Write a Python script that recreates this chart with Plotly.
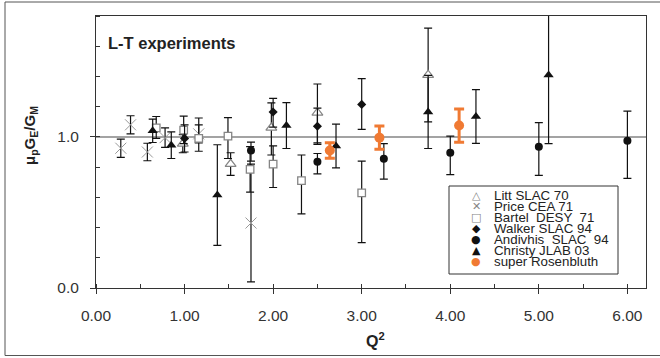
import plotly.graph_objects as go

# ---------------------------------------------------------------- data
# Litt SLAC 70 (open triangles)
litt_q2 = [0.98, 1.52, 1.98, 2.50, 3.75]
litt_r = [0.955, 0.82, 1.06, 1.16, 1.41]
litt_ep = [0.06, 0.075, 0.165, 0.19, 0.31]
litt_em = [0.06, 0.075, 0.18, 0.20, 0.31]

# Price CEA 71 (crosses)
price_q2 = [0.28, 0.39, 0.58, 0.78, 1.16, 1.75]
price_r = [0.925, 1.08, 0.90, 0.995, 1.02, 0.43]
price_e = [0.06, 0.06, 0.058, 0.065, 0.06, 0.39]

# Bartel DESY 71 (open squares)
bartel_q2 = [0.68, 0.99, 1.16, 1.49, 1.74, 2.00, 2.32, 3.00]
bartel_r = [1.06, 1.045, 0.99, 1.005, 0.785, 0.82, 0.71, 0.63]
bartel_ep = [0.075, 0.093, 0.135, 0.123, 0.15, 0.12, 0.17, 0.21]
bartel_em = [0.07, 0.09, 0.085, 0.148, 0.15, 0.155, 0.22, 0.33]

# Walker SLAC 94 (diamonds)
walker_q2 = [1.00, 2.00, 2.50, 3.00]
walker_r = [0.99, 1.165, 1.07, 1.215]
walker_ep = [0.09, 0.09, 0.12, 0.17]
walker_em = [0.09, 0.10, 0.12, 0.165]

# Andivahis SLAC 94 (filled circles)
andiv_q2 = [1.75, 2.50, 3.25, 4.00, 5.00, 6.00]
andiv_r = [0.91, 0.835, 0.855, 0.895, 0.935, 0.975]
andiv_ep = [0.055, 0.055, 0.10, 0.11, 0.16, 0.195]
andiv_em = [0.07, 0.08, 0.135, 0.145, 0.19, 0.25]

# Christy JLAB 03 (filled triangles)
christy_q2 = [0.64, 0.85, 1.37, 2.15, 2.71, 3.75, 4.29, 5.11]
christy_r = [1.04, 0.945, 0.615, 1.075, 0.94, 1.165, 1.135, 1.41]
christy_e = [0.077, 0.088, 0.333, 0.152, 0.145, 0.242, 0.178, 0.455]

# super Rosenbluth (orange)
super_q2 = [2.64, 3.20, 4.10]
super_r = [0.91, 0.995, 1.075]
super_e = [0.052, 0.077, 0.11]

x_ticks = [0, 1, 2, 3, 4, 5, 6]
x_ticktext = ["0.00", "1.00", "2.00", "3.00", "4.00", "5.00", "6.00"]
y_ticks = [0.0, 1.0]
y_ticktext = ["0.0", "1.0"]

legend_labels = ["Litt SLAC 70", "Price CEA 71", "Bartel \u00a0DESY \u00a071",
                 "Walker SLAC 94", "Andivhis \u00a0SLAC \u00a094",
                 "Christy JLAB 03", "super Rosenbluth"]
legend_glyphs = ["\u25b3", "\u2715", "\u25a1", "\u25c6", "\u25cf", "\u25b2", "\u25cf"]

# ---------------------------------------------------------------- style
FONT = "Liberation Sans, Arial, Helvetica, sans-serif"
GREY = "#858585"
ORANGE = "#f07a33"
INK = "#222222"
legend_colors = [GREY, GREY, GREY, "#111111", "#111111", "#111111", ORANGE]

W, H = 660, 358
ML, MR, MT, MB = 96, 14, 16, 70


def px_x(p):
    return (p - ML) / (W - ML - MR)


def px_y(p):
    return (H - MB - p) / (H - MT - MB)


def err(plus, minus=None, color="#111111", thick=1.2, width=4):
    d = dict(type="data", array=plus, color=color, thickness=thick, width=width)
    if minus is not None:
        d["symmetric"] = False
        d["arrayminus"] = minus
    return d


fig = go.Figure()

fig.add_trace(go.Scatter(
    x=litt_q2, y=litt_r, mode="markers", name="Litt SLAC 70",
    error_y=err(litt_ep, litt_em),
    marker=dict(symbol="triangle-up", size=9.5, color="white",
                line=dict(color=GREY, width=1.2))))

fig.add_trace(go.Scatter(
    x=price_q2, y=price_r, mode="markers", name="Price CEA 71",
    error_y=err(price_e),
    marker=dict(symbol="x-thin", size=11, color="#999999",
                line=dict(color="#999999", width=1))))

fig.add_trace(go.Scatter(
    x=bartel_q2, y=bartel_r, mode="markers", name="Bartel DESY 71",
    error_y=err(bartel_ep, bartel_em),
    marker=dict(symbol="square", size=7.5, color="white",
                line=dict(color=GREY, width=1.3))))

fig.add_trace(go.Scatter(
    x=walker_q2, y=walker_r, mode="markers", name="Walker SLAC 94",
    error_y=err(walker_ep, walker_em),
    marker=dict(symbol="diamond", size=7, color="#111111")))

fig.add_trace(go.Scatter(
    x=andiv_q2, y=andiv_r, mode="markers", name="Andivhis SLAC 94",
    error_y=err(andiv_ep, andiv_em),
    marker=dict(symbol="circle", size=8, color="#111111")))

# the highest Christy point's error bar runs past the top of the frame
fig.add_trace(go.Scatter(
    x=christy_q2, y=christy_r, mode="markers", name="Christy JLAB 03",
    error_y=err(christy_e), cliponaxis=False,
    marker=dict(symbol="triangle-up", size=9, color="#111111")))

fig.add_trace(go.Scatter(
    x=super_q2, y=super_r, mode="markers", name="super Rosenbluth",
    error_y=err(super_e, color=ORANGE, thick=3, width=5),
    marker=dict(symbol="circle", size=10, color=ORANGE)))

shapes = [
    # reference line at ratio = 1
    dict(type="line", xref="paper", yref="y", x0=0, x1=1, y0=1, y1=1,
         line=dict(color=GREY, width=1.5), layer="below"),
    # outer frame
    dict(type="rect", xref="paper", yref="paper",
         x0=px_x(5), x1=px_x(W + 10), y0=px_y(355.5), y1=px_y(2),
         line=dict(color="#555555", width=1)),
    # legend box
    dict(type="rect", xref="paper", yref="paper",
         x0=px_x(449), x1=px_x(618), y0=px_y(274), y1=px_y(186),
         line=dict(color="#333333", width=1), fillcolor="white"),
]

annotations = [
    dict(text="<b>L-T experiments</b>", xref="paper", yref="paper",
         x=px_x(106), y=px_y(43.5), xanchor="left", yanchor="middle",
         showarrow=False, font=dict(family=FONT, size=16.5, color=INK)),
    dict(text="<b>\u03bc<sub>p</sub>G<sub>E</sub>/G<sub>M</sub></b>",
         xref="paper", yref="paper", x=px_x(30), y=px_y(136),
         xanchor="center", yanchor="middle", textangle=-90, showarrow=False,
         font=dict(family=FONT, size=15, color=INK)),
    dict(text="<b>Q<sup>2</sup></b>", xref="paper", yref="paper",
         x=px_x(376), y=px_y(340), xanchor="center", yanchor="middle",
         showarrow=False, font=dict(family=FONT, size=16, color=INK)),
]

row0, row_step = 195.0, 11.1
for i, (lab, gl, col) in enumerate(zip(legend_labels, legend_glyphs, legend_colors)):
    yy = px_y(row0 + i * row_step)
    annotations.append(dict(
        text=gl, xref="paper", yref="paper", x=px_x(476), y=yy,
        xanchor="center", yanchor="middle", showarrow=False,
        font=dict(family="DejaVu Sans", size=11, color=col)))
    annotations.append(dict(
        text=lab, xref="paper", yref="paper", x=px_x(492), y=yy,
        xanchor="left", yanchor="middle", showarrow=False,
        font=dict(family=FONT, size=13.3, color=INK)))

fig.update_layout(
    width=W, height=H,
    margin=dict(l=ML, r=MR, t=MT, b=MB),
    paper_bgcolor="white", plot_bgcolor="white",
    showlegend=False,
    font=dict(family=FONT, size=15, color="#333333"),
    shapes=shapes, annotations=annotations,
)

fig.update_xaxes(
    range=[0, 6.21], tickvals=x_ticks, ticktext=x_ticktext,
    ticks="outside", ticklen=5, tickwidth=1, tickcolor="#333333",
    minor=dict(ticks="inside", dtick=0.5, ticklen=4, tickcolor="#333333"),
    showline=True, linecolor="#333333", linewidth=1, mirror=True,
    showgrid=False, zeroline=False, ticklabelstandoff=8,
    tickfont=dict(family=FONT, size=15.5, color="#333333"),
)
fig.update_yaxes(
    range=[0, 1.8], tickvals=y_ticks, ticktext=y_ticktext,
    ticks="outside", ticklen=5, tickwidth=1, tickcolor="#333333",
    minor=dict(ticks="inside", dtick=0.2, ticklen=4, tickcolor="#333333"),
    showline=True, linecolor="#333333", linewidth=1, mirror=True,
    showgrid=False, zeroline=False, ticklabelstandoff=8,
    tickfont=dict(family=FONT, size=15.5, color="#333333"),
)

fig.write_html("out.html")
